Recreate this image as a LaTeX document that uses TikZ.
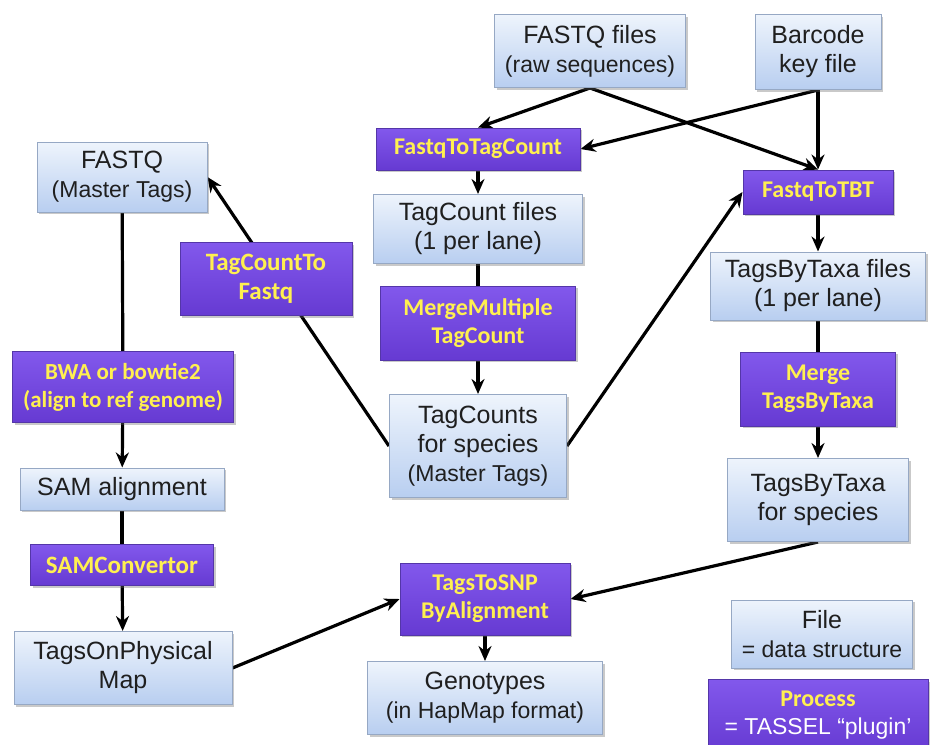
\documentclass[tikz,border=0pt]{standalone}
\usepackage{fontspec}
\setmainfont{Liberation Sans}
\newfontfamily\procfont{Carlito}
\usetikzlibrary{arrows.meta}
\usetikzlibrary{shadows,backgrounds}

\definecolor{filetop}{RGB}{238,244,252}
\definecolor{filebot}{RGB}{184,206,240}
\definecolor{fileline}{RGB}{150,168,196}
\definecolor{proctop}{RGB}{130,88,236}
\definecolor{procbot}{RGB}{102,58,210}
\definecolor{procline}{RGB}{84,54,168}
\definecolor{proctext}{RGB}{255,240,80}

\tikzset{
 boxshadow/.style={drop shadow={shadow xshift=2pt, shadow yshift=-2pt, opacity=.35, fill=black!60}},
 filebox/.style={draw=fileline, line width=1pt, top color=filetop, bottom color=filebot, boxshadow,
   align=center, inner sep=2pt, text=black!88, font=\fontsize{25}{29}\selectfont},
 procbox/.style={draw=procline, line width=1pt, top color=proctop, bottom color=procbot, boxshadow,
   align=center, inner sep=2pt, text=proctext, font=\fontsize{24}{28}\selectfont\procfont\bfseries},
 flow/.style={line width=3.2pt, ->, >={Stealth[length=15pt, width=13pt]}},
 link/.style={line width=3.2pt},
}
\newcommand\smalltxt{\fontsize{23}{28}\selectfont}

\begin{document}
\begin{tikzpicture}[x=1pt, y=-1pt]
\useasboundingbox (0,0) rectangle (931,744);

% top row: raw input files
\node[filebox, minimum width=191, minimum height=73] (rawfq) at (590,51) {FASTQ files\\\smalltxt(raw sequences)};
\node[filebox, minimum width=126, minimum height=75] (barcode) at (818,52) {Barcode\\key file};

% middle column
\node[procbox, minimum width=204, minimum height=42] (fq2tc) at (478,149) {FastqToTagCount};
\node[filebox, minimum width=209, minimum height=69] (tcfiles) at (478,229) {TagCount files\\(1 per lane)};
\node[procbox, minimum width=195, minimum height=74] (mmtc) at (478,323) {MergeMultiple\\TagCount};
\node[filebox, minimum width=177, minimum height=103] (tcspec) at (478,446) {TagCounts\\for species\\\smalltxt(Master Tags)};

% right column
\node[procbox, minimum width=150, minimum height=44] (fq2tbt) at (818,192) {FastqToTBT};
\node[filebox, minimum width=215, minimum height=68] (tbtfiles) at (818,286) {TagsByTaxa files\\(1 per lane)};
\node[procbox, minimum width=155, minimum height=74] (merge) at (818,389) {Merge\\TagsByTaxa};
\node[filebox, minimum width=181, minimum height=83] (tbtspec) at (818,500) {TagsByTaxa\\for species};

% left column
\node[filebox, minimum width=170, minimum height=70] (mfq) at (122,177) {FASTQ\\\smalltxt(Master Tags)};
\node[procbox, minimum width=172, minimum height=73, font=\fontsize{25}{29}\selectfont\procfont\bfseries] (tc2fq) at (266,279) {TagCountTo\\Fastq};
\node[procbox, minimum width=221, minimum height=71, font=\fontsize{23}{28}\selectfont\procfont\bfseries] (bwa) at (123,387) {BWA or bowtie2\\(align to ref genome)};
\node[filebox, minimum width=204, minimum height=42] (sam) at (122,489) {SAM alignment};
\node[procbox, minimum width=183, minimum height=41, font=\fontsize{25}{29}\selectfont\procfont\bfseries] (samconv) at (122,565) {SAMConvertor};
\node[filebox, minimum width=218, minimum height=73] (topm) at (123,668) {TagsOnPhysical\\Map};

% bottom
\node[procbox, minimum width=170, minimum height=72] (tagstosnp) at (485,599) {TagsToSNP\\ByAlignment};
\node[filebox, minimum width=235, minimum height=73] (geno) at (485,698) {Genotypes\\\smalltxt(in HapMap format)};

% legend
\node[filebox, minimum width=181, minimum height=68] (legfile) at (822,634) {File\\\smalltxt= data structure};
\node[procbox, minimum width=220, minimum height=72, anchor=north] (legproc) at (818,679) {Process\\{\rmfamily\mdseries\smalltxt\color{white}= TASSEL “plugin’}};

\begin{scope}[on background layer]
\fill[white] (0,0) rectangle (931,744);
\draw[flow] (rawfq.south) -- (fq2tc.north);
\draw[flow] (rawfq.south) -- (fq2tbt.north);
\draw[flow] (barcode.south) -- (fq2tbt.north);
\draw[flow] (barcode.south) -- (fq2tc.east);
\draw[flow] (fq2tc) -- (tcfiles);
\draw[link] (tcfiles) -- (mmtc);
\draw[flow] (mmtc) -- (tcspec);
\draw[flow] (tcspec.west) -- (mfq.east);
\draw[flow] (tcspec.east) -- (fq2tbt.west);
\draw[flow] (fq2tbt) -- (tbtfiles);
\draw[link] (tbtfiles) -- (merge);
\draw[flow] (merge) -- (tbtspec);
\draw[flow] (tbtspec.south) -- (tagstosnp.east);
\draw[link] (mfq) -- (bwa);
\draw[flow] (bwa) -- (sam);
\draw[link] (sam) -- (samconv);
\draw[flow] (samconv) -- (topm);
\draw[flow] (topm.east) -- (tagstosnp.west);
\draw[flow] (tagstosnp) -- (geno);
\end{scope}
\end{tikzpicture}
\end{document}
